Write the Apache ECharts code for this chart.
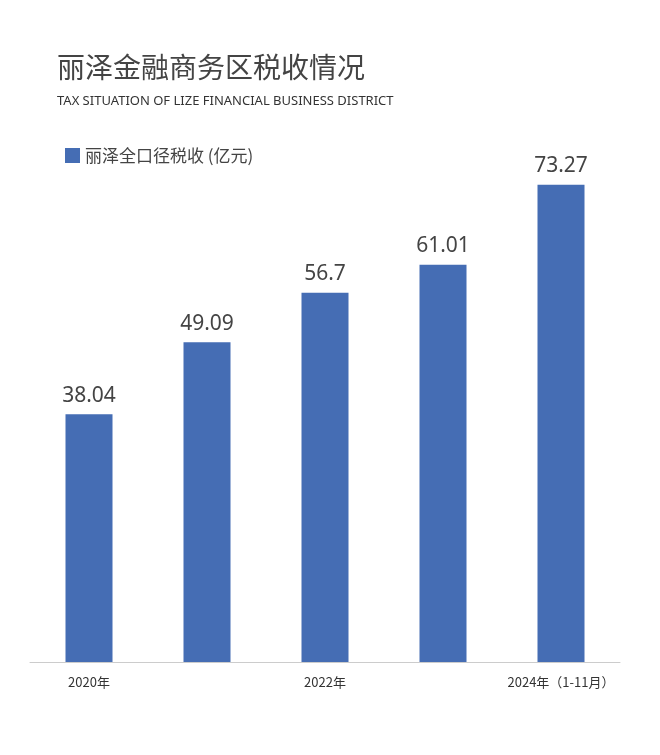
<!DOCTYPE html>
<html><head><meta charset="utf-8">
<script src="https://cdn.jsdelivr.net/npm/echarts@6/dist/echarts.min.js"></script>
<style>html,body{margin:0;padding:0;background:#fff}#c{width:660px;height:755px}</style>
</head><body><div id="c"></div>
<script>
const categories = ['2020年','2021年','2022年','2023年','2024年（1-11月）'];
const taxValues = [38.04, 49.09, 56.7, 61.01, 73.27];
const seriesName = '丽泽全口径税收 (亿元)';
const chart = echarts.init(document.getElementById('c'));
chart.setOption({
  backgroundColor:'#fff',
  title:{text:'丽泽金融商务区税收情况',subtext:'TAX SITUATION OF LIZE FINANCIAL BUSINESS DISTRICT',
    left:52,top:48,itemGap:14,
    textStyle:{fontFamily:'Noto Sans CJK SC',fontSize:28,fontWeight:'normal',color:'#444'},
    subtextStyle:{fontFamily:'Noto Sans',fontSize:13,color:'#333'}},
  legend:{left:60,top:142,itemWidth:15,itemHeight:15,icon:'rect',
    textStyle:{fontFamily:'Noto Sans CJK SC',fontSize:17,color:'#444'}},
  grid:{left:30,right:40,top:141,bottom:93,containLabel:false},
  xAxis:{type:'category',data:categories,
    axisLine:{lineStyle:{color:'#ccc'}},axisTick:{show:false},
    axisLabel:{fontFamily:'Noto Sans CJK SC',fontSize:13,color:'#333',margin:14}},
  yAxis:{type:'value',min:0,max:80,show:false,splitLine:{show:false}},
  series:[{name:seriesName,type:'bar',data:taxValues,barWidth:47,
    itemStyle:{color:'#456db4'},
    label:{show:true,position:'top',distance:8,fontFamily:'Noto Sans',fontSize:21,color:'#444'}}]
});
</script></body></html>
